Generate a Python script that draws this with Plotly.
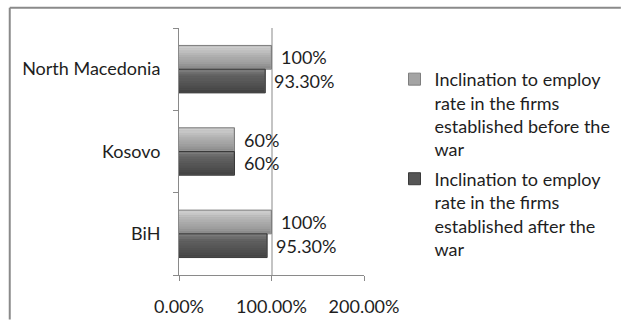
import plotly.graph_objects as go

# Countries, bottom to top
countries = ["BiH", "Kosovo", "North Macedonia"]
# Inclination to employ (%) by firm founding period
before_war = [100, 60, 100]
after_war = [95.3, 60, 93.3]
before_labels = ["100%", "60%", "100%"]
after_labels = ["95.30%", "60%", "93.30%"]
series_names = [
    "Inclination to employ<br>rate in the firms<br>established before the<br>war",
    "Inclination to employ<br>rate in the firms<br>established after the<br>war",
]
x_ticks = [0, 100, 200]
x_tick_text = ["0.00%", "100.00%", "200.00%"]

W, H = 628, 329
ML, MR, MT, MB = 179, 261, 28, 46
PW, PH = W - ML - MR, H - MT - MB
FONT = "Lato"
TXT = "#1e1e1e"

BAR_W = 0.288  # bar thickness in category units


def px_x(p):
    return (p - ML) / PW


def px_y(p):
    return (H - MB - p) / PH


# grey ramps (bottom -> top) used to shade each bar like a bevelled slab
before_ramp = ["#8c8c8c", "#959595", "#9e9e9e", "#a4a4a4", "#a9a9a9",
               "#afafaf", "#b6b6b6", "#bebebe", "#c6c6c6", "#cccccc"]
after_ramp = ["#434343", "#484848", "#4d4d4d", "#525252", "#565656",
              "#5a5a5a", "#5e5e5e", "#626262", "#6c6c6c", "#7a7a7a"]

fig = go.Figure()

styles = [
    (before_war, 0.0, "#a4a4a4", "#7e7e7e", before_ramp),
    (after_war, -BAR_W, "#555555", "#3a3a3a", after_ramp),
]

for i, (vals, off, base, outline, ramp) in enumerate(styles):
    group = f"s{i}"
    fig.add_trace(go.Bar(
        y=countries, x=vals, orientation="h",
        name=series_names[i], offset=off, width=BAR_W,
        marker=dict(color=base, line=dict(color=outline, width=1)),
        legendrank=i + 1, legendgroup=group, hoverinfo="skip",
    ))
    n = len(ramp)
    step = (BAR_W - 0.02) / n
    for k, col in enumerate(ramp):
        fig.add_trace(go.Bar(
            y=countries, x=[v - 1.0 for v in vals], orientation="h",
            offset=off + 0.01 + k * step, width=step * 1.05,
            marker=dict(color=col, line=dict(width=0)),
            legendgroup=group, showlegend=False, hoverinfo="skip",
        ))

# value labels to the right of each bar
for j in range(len(countries)):
    for vals, labels, dy in ((before_war, before_labels, BAR_W / 2),
                             (after_war, after_labels, -BAR_W / 2)):
        fig.add_annotation(
            x=vals[j], y=j + dy, xref="x", yref="y",
            text=labels[j], showarrow=False, xanchor="left", yanchor="middle",
            xshift=7, font=dict(family=FONT, size=18, color=TXT),
        )

# outer chart frame (left and top edges)
fig.add_shape(type="line", xref="paper", yref="paper",
              x0=px_x(7), x1=px_x(7), y0=px_y(7), y1=px_y(H),
              line=dict(color="#8a8a8a", width=2))
fig.add_shape(type="line", xref="paper", yref="paper",
              x0=px_x(7), x1=px_x(W), y0=px_y(7), y1=px_y(7),
              line=dict(color="#8a8a8a", width=2))

fig.update_layout(
    width=W, height=H,
    margin=dict(l=ML, r=MR, t=MT, b=MB, pad=0),
    paper_bgcolor="white", plot_bgcolor="white",
    barmode="overlay",
    font=dict(family=FONT, size=18, color=TXT),
    showlegend=True,
    legend=dict(
        x=px_x(398), y=px_y(62), xanchor="left", yanchor="top",
        valign="top", font=dict(family=FONT, size=18, color=TXT),
        tracegroupgap=3, itemwidth=30, bgcolor="rgba(0,0,0,0)",
    ),
    xaxis=dict(
        range=[0, 200], tickvals=x_ticks, ticktext=x_tick_text,
        showgrid=True, gridcolor="#c4c4c4", gridwidth=1.5,
        showline=True, linecolor="#8a8a8a", linewidth=1,
        ticks="outside", ticklen=5, tickcolor="#8a8a8a",
        ticklabelstandoff=10, zeroline=False, fixedrange=True,
    ),
    yaxis=dict(
        categoryorder="array", categoryarray=countries,
        range=[-0.5, 2.5],
        showline=True, linecolor="#8a8a8a", linewidth=1,
        ticks="outside", ticklen=5, tickcolor="#8a8a8a",
        tickson="boundaries", ticklabelstandoff=14,
        showgrid=False, zeroline=False, fixedrange=True,
    ),
)

fig.write_html("out.html")
